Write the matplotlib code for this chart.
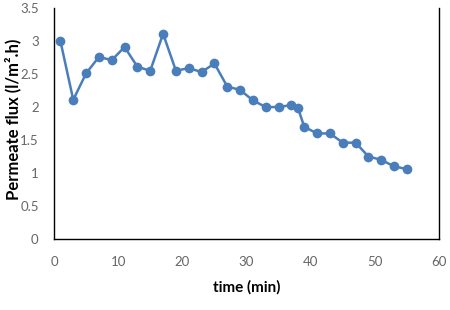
import matplotlib
matplotlib.use("Agg")
import matplotlib.pyplot as plt

time_min = [1, 3, 5, 7, 9, 11, 13, 15, 17, 19, 21, 23, 25, 27, 29, 31, 33, 35, 37, 38,
            39, 41, 43, 45, 47, 49, 51, 53, 55]
flux = [3.00, 2.11, 2.51, 2.76, 2.71, 2.91, 2.61, 2.55, 3.11, 2.55, 2.59, 2.53, 2.66, 2.31, 2.26,
        2.10, 2.00, 2.00, 2.03, 1.99, 1.70, 1.60, 1.60, 1.46, 1.46, 1.25, 1.20, 1.10, 1.06]
xticks = [0, 10, 20, 30, 40, 50, 60]
yticks = [0, 0.5, 1, 1.5, 2, 2.5, 3, 3.5]

plt.rcParams['font.family'] = ['Lato', 'DejaVu Sans']

fig = plt.figure(figsize=(4.5, 3.1), dpi=100)
ax = fig.add_axes([0.12, 0.229, 0.8556, 0.745])
ax.plot(time_min, flux, color='#4A7EBB', lw=1.8, marker='o', markersize=7,
        markeredgewidth=0)
ax.set_xlim(0, 60)
ax.set_ylim(0, 3.5)
ax.set_xticks(xticks)
ax.set_yticks(yticks)
ax.set_xticklabels([str(v) for v in xticks])
ax.set_yticklabels(['0', '0.5', '1', '1.5', '2', '2.5', '3', '3.5'])
ax.tick_params(length=0, labelsize=9.5, colors='#666666')
ax.tick_params(axis='y', pad=11)
ax.tick_params(axis='x', pad=12)
for s in ['left', 'bottom', 'right']:
    ax.spines[s].set_color('black')
    ax.spines[s].set_linewidth(1.0)
ax.spines['top'].set_visible(False)
ax.set_xlabel('time (min)', fontsize=11, fontweight='bold')
ax.xaxis.set_label_coords(0.5, -0.18)
ax.set_ylabel('Permeate flux (l/m².h)', fontsize=12, fontweight='bold')
ax.yaxis.set_label_coords(-0.085, 0.52)
fig.savefig('out.png', dpi=100)
